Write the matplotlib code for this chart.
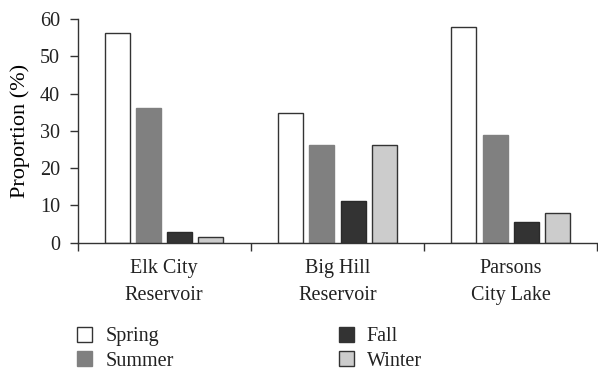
import matplotlib
matplotlib.use("Agg")
import matplotlib.pyplot as plt
from matplotlib.patches import Patch
import numpy as np

# Seasonal proportions (%) per water body
sites = ["Elk City\nReservoir", "Big Hill\nReservoir", "Parsons\nCity Lake"]
seasons = ["Spring", "Summer", "Fall", "Winter"]
spring = [56.2, 34.8, 57.9]
summer = [36.1, 26.2, 28.8]
fall = [2.8, 11.3, 5.5]
winter = [1.5, 26.3, 7.9]
y_ticks = [0, 10, 20, 30, 40, 50, 60]

series = [spring, summer, fall, winter]
fills = ["#ffffff", "#808080", "#333333", "#cccccc"]
edges = ["#333333", "#808080", "#2a2a2a", "#333333"]

plt.rcParams["font.family"] = ["Liberation Serif", "DejaVu Serif"]
plt.rcParams["font.size"] = 14.5
plt.rcParams["text.color"] = "#222222"
plt.rcParams["xtick.color"] = "#333333"
plt.rcParams["ytick.color"] = "#333333"
plt.rcParams["xtick.labelcolor"] = "#222222"
plt.rcParams["ytick.labelcolor"] = "#222222"

fig = plt.figure(figsize=(5.98, 3.75), dpi=100)
ax = fig.add_axes([77.5 / 598, 1 - 242.7 / 375, 1 - 77.5 / 598 - 0.001, (242.7 - 19) / 375])

centers = np.arange(len(sites)) + 0.5
pitch = 0.18
width = 0.144
for i, (vals, fc, ec) in enumerate(zip(series, fills, edges)):
    ax.bar(centers + (i - 1.5) * pitch, vals, width=width, color=fc,
           edgecolor=ec, linewidth=1.0, zorder=2)

ax.set_xlim(0, len(sites))
ax.set_ylim(0, 60)
ax.set_yticks(y_ticks)
ax.set_xticks(np.arange(len(sites) + 1))
ax.set_xticklabels([])
ax.set_xticks(centers, minor=True)
ax.set_xticklabels(sites, minor=True, linespacing=1.55)
ax.tick_params(axis="x", which="minor", length=0, pad=12)
ax.tick_params(axis="x", which="major", direction="out", length=5.5, width=1.0)
ax.tick_params(axis="y", direction="out", length=5.5, width=1.0, pad=7)

for side in ["top", "right"]:
    ax.spines[side].set_visible(False)
for side in ["left", "bottom"]:
    ax.spines[side].set_color("#333333")
    ax.spines[side].set_linewidth(1.0)

ax.set_ylabel("Proportion (%)", fontsize=16, labelpad=7)

handles = [Patch(facecolor=fc, edgecolor="#333333" if fc != "#808080" else "#808080", linewidth=1.0)
           for fc in fills]
fig.legend(handles, seasons, ncol=2, loc="upper left",
           bbox_to_anchor=(77 / 598, 1 - 327 / 375), frameon=False,
           borderpad=0, borderaxespad=0, handlelength=0.75, handleheight=0.75,
           handletextpad=0.65, labelspacing=0.25, columnspacing=8.2)

fig.savefig("out.png", dpi=100)
